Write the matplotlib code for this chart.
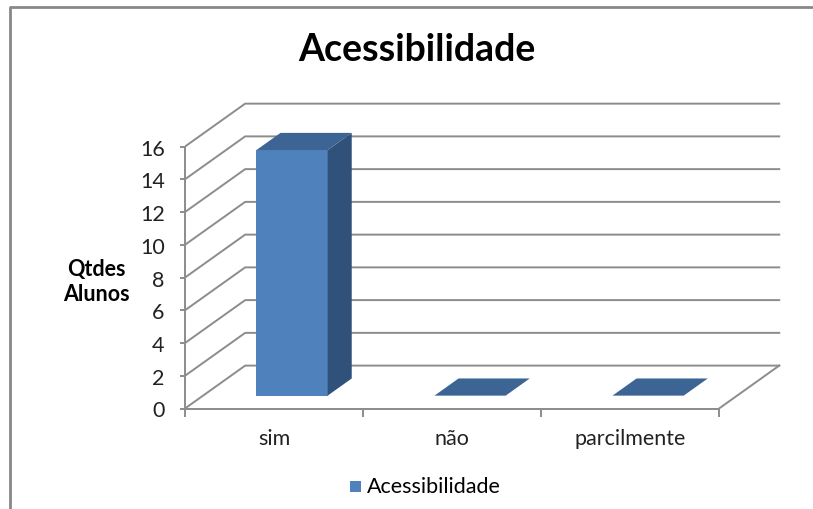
import matplotlib.pyplot as plt
from matplotlib.patches import Polygon
from matplotlib.lines import Line2D

plt.rcParams['font.family'] = ['Lato', 'DejaVu Sans']

categories = ["sim", "não", "parcilmente"]
values = [15, 0, 0]
series_name = "Acessibilidade"
yticks = [0, 2, 4, 6, 8, 10, 12, 14, 16]

# depth of the fake 3d box, in data units
DX, DY = 0.338, 2.62
grid_c = "#8c8c8c"
front_c, side_c, top_c = "#4f81bd", "#30527a", "#3c6494"

fig = plt.figure(figsize=(8.13, 5.10), dpi=100)
ax = fig.add_axes([185/813, (510-409.5)/510, (781-185)/813, (409.5-103)/510])
ax.set_xlim(0, 3 + DX + 0.01)
ax.set_ylim(0, 16 + DY + 0.1)

n = len(categories)
# back wall gridlines + floor
for y in yticks:
    ax.plot([0, DX, n + DX], [y, y + DY, y + DY], color=grid_c, lw=1.4, zorder=1)
ax.plot([0, n], [0, 0], color=grid_c, lw=1.4, zorder=1)
ax.plot([n, n + DX], [0, DY], color=grid_c, lw=1.4, zorder=1)

# bars
f0, f1 = 0.3, 0.7
w0, w1 = 0.3, 0.7
for i, v in enumerate(values):
    x0 = i + w0 + f0 * DX
    x1 = i + w1 + f0 * DX
    yb = f0 * DY
    ddx, ddy = (f1 - f0) * DX, (f1 - f0) * DY
    if v > 0:
        ax.add_patch(Polygon([(x0, yb), (x1, yb), (x1, yb + v), (x0, yb + v)],
                             closed=True, fc=front_c, ec="none", zorder=3))
        ax.add_patch(Polygon([(x1, yb), (x1 + ddx, yb + ddy), (x1 + ddx, yb + v + ddy), (x1, yb + v)],
                             closed=True, fc=side_c, ec="none", zorder=3))
    ax.add_patch(Polygon([(x0, yb + v), (x1, yb + v), (x1 + ddx, yb + v + ddy), (x0 + ddx, yb + v + ddy)],
                         closed=True, fc=top_c, ec="none", zorder=3))

# axes: only left and bottom spines on the front plane
for s in ["top", "right"]:
    ax.spines[s].set_visible(False)
ax.spines["left"].set_bounds(0, 16)
ax.spines["bottom"].set_bounds(0, n)
for s in ["left", "bottom"]:
    ax.spines[s].set_color(grid_c)
    ax.spines[s].set_linewidth(1.4)
ax.set_yticks(yticks)
ax.set_yticklabels([str(t) for t in yticks], fontsize=15.5, color="#222222")
ax.set_xticks(range(n + 1))
ax.set_xticklabels([])
ax.set_xticks([i + 0.5 for i in range(n)], minor=True)
ax.set_xticklabels(categories, minor=True, fontsize=15.5, color="#222222")
ax.tick_params(axis="y", length=3.6, color=grid_c, width=1.4, pad=11)
ax.tick_params(axis="x", which="major", length=6, color=grid_c, width=1.4)
ax.tick_params(axis="x", which="minor", length=0, pad=14)

fig.text(96/813, 1 - 282/510, "Qtdes\nAlunos", ha="center", va="center",
         fontsize=15.5, fontweight="bold", linespacing=1.2)
fig.text(417/813, 1 - 50/510, "Acessibilidade", ha="center", va="center",
         fontsize=27, fontweight="bold")

# legend
fig.patches.append(plt.Rectangle((350/813, 1 - 493/510), 11/813, 11/510,
                                 transform=fig.transFigure, fc=front_c, ec="none"))
fig.text(367/813, 1 - 487/510, series_name, ha="left", va="center", fontsize=15.5)

# chart area border
fig.add_artist(Line2D([10/813, 10/813, 1], [0, 1 - 8/510, 1 - 8/510],
                      transform=fig.transFigure, color="#888888", lw=2))

fig.savefig("out.png", dpi=100)
